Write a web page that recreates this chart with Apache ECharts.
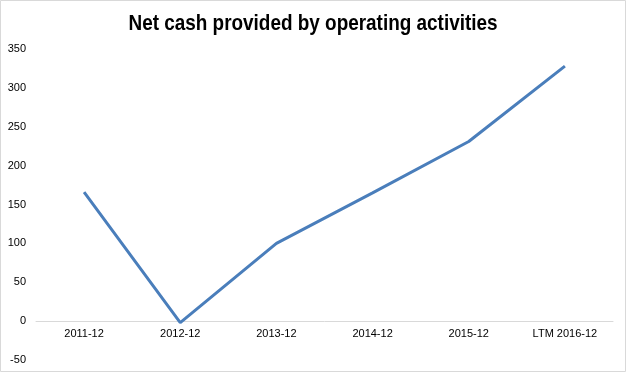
<!DOCTYPE html>
<html><head><meta charset="utf-8">
<script src="https://cdn.jsdelivr.net/npm/echarts@6/dist/echarts.min.js"></script>
<style>html,body{margin:0;padding:0;background:#fff}#c{width:628px;height:375px}</style>
</head><body><div id="c"></div>
<script>
var categories = ['2011-12','2012-12','2013-12','2014-12','2015-12','LTM 2016-12'];
var values = [166, -2, 100, 165, 231, 328];
var yTicks = {min: -50, max: 350, interval: 50};
var titleText = 'Net cash provided by operating activities';

var W = 628, H = 375;
var grid = {left: 36, right: 15, top: 49, bottom: 15};
var gridH = H - grid.top - grid.bottom;
var zeroOffset = -gridH * (0 - yTicks.min) / (yTicks.max - yTicks.min);

var chart = echarts.init(document.getElementById('c'), null, {renderer: 'canvas'});
chart.setOption({
  animation: false,
  backgroundColor: '#fff',
  graphic: [
    {type: 'rect', shape: {x: 0.5, y: 0.5, width: 625, height: 371}, style: {fill: 'none', stroke: '#d9d9d9', lineWidth: 1}, silent: true},
    {type: 'text', x: 313, y: 23.5, scaleX: 0.86, scaleY: 1,
     style: {text: titleText, x: 0, y: 0, align: 'center', verticalAlign: 'middle',
             font: "bold 22px 'Liberation Sans', Arial, sans-serif", fill: '#000'}, silent: true}
  ],
  grid: {left: grid.left, right: grid.right, top: grid.top, bottom: grid.bottom, containLabel: false, outerBoundsMode: 'none'},
  xAxis: {
    type: 'category', data: categories, boundaryGap: true,
    offset: zeroOffset,
    axisLine: {onZero: false, lineStyle: {color: '#d9d9d9', width: 1}},
    axisTick: {show: false},
    axisLabel: {color: '#000', fontFamily: "'Liberation Sans',Arial,sans-serif", fontSize: 11, margin: 7}
  },
  yAxis: {
    type: 'value', min: yTicks.min, max: yTicks.max, interval: yTicks.interval,
    axisLine: {show: false}, axisTick: {show: false}, splitLine: {show: false},
    axisLabel: {color: '#000', fontFamily: "'Liberation Sans',Arial,sans-serif", fontSize: 11, margin: 10}
  },
  series: [{
    type: 'line', data: values, showSymbol: false, symbol: 'none',
    lineStyle: {color: '#4a7ebb', width: 3}
  }]
});
</script></body></html>
